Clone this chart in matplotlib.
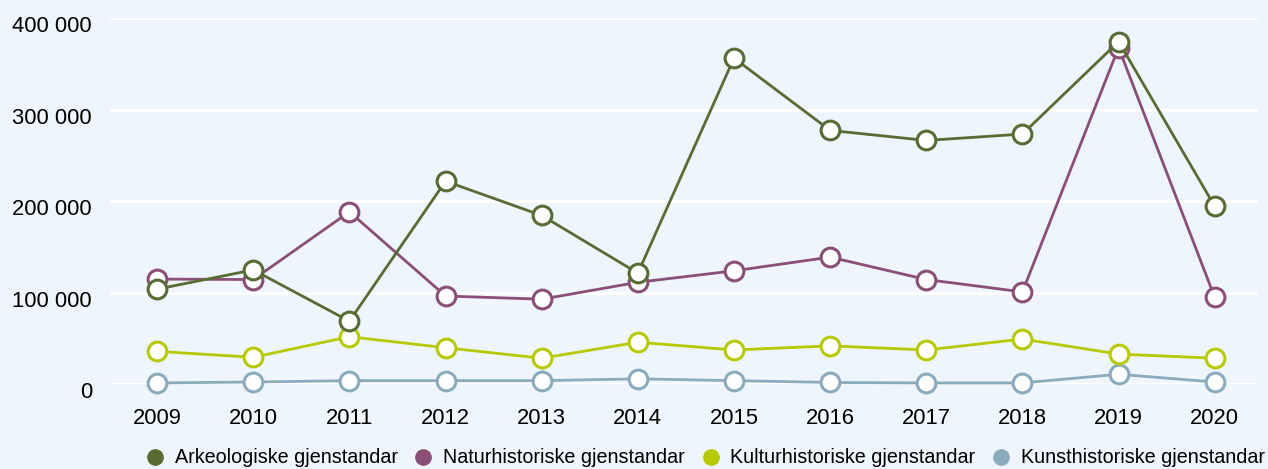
import numpy as np
import matplotlib
matplotlib.use("Agg")
import matplotlib.pyplot as plt
from matplotlib.lines import Line2D
from matplotlib.ticker import FuncFormatter
import matplotlib.transforms as mtransforms

# data, lest av bildet
years = [2009, 2010, 2011, 2012, 2013, 2014, 2015, 2016, 2017, 2018, 2019, 2020]
arkeologiske = [104000, 125000, 69000, 222000, 184500, 121500, 356500, 277500, 266500, 273500, 374500, 194500]
naturhistoriske = [115000, 114500, 188500, 96500, 93000, 111500, 124000, 139000, 114500, 101000, 368000, 95000]
kulturhistoriske = [36000, 29500, 52000, 40000, 28500, 46000, 37500, 42000, 37500, 49500, 33000, 28500]
kunsthistoriske = [1500, 2500, 4000, 4000, 4000, 6000, 4000, 2000, 1500, 1500, 11000, 2500]

labels = ["Arkeologiske gjenstandar", "Naturhistoriske gjenstandar",
          "Kulturhistoriske gjenstandar", "Kunsthistoriske gjenstandar"]
colors = ["#586b33", "#8a4e77", "#b7c900", "#8aabbd"]
yticks = [0, 100000, 200000, 300000, 400000]

bg = "#eef5fc"
plt.rcParams['font.family'] = ['Liberation Sans', 'DejaVu Sans']

fig = plt.figure(figsize=(12.68, 4.69), dpi=100, facecolor=bg)
ax = fig.add_axes([110 / 1268, (469 - 384.3) / 469, (1258 - 110) / 1268, (384.3 - 18.3) / 469])
ax.set_facecolor(bg)

series = [arkeologiske, naturhistoriske, kulturhistoriske, kunsthistoriske]
# tegn arkeologiske sist, den ligger over de andre
for i in [3, 2, 1, 0]:
    ax.plot(years, series[i], color=colors[i], lw=2.0, marker='o', markersize=13.5,
            markerfacecolor='white', markeredgecolor=colors[i], markeredgewidth=2.2,
            clip_on=False, zorder=3 + (3 - i))

ax.set_ylim(0, 400000)
ax.set_xlim(2008.51, 2020.45)
ax.set_yticks(yticks)
ax.yaxis.set_major_formatter(FuncFormatter(lambda v, p: "{:,.0f}".format(v).replace(",", " ")))
ax.set_xticks(years)
ax.grid(axis='y', color='white', lw=2.2, zorder=0)
ax.set_axisbelow(True)
for s in ax.spines.values():
    s.set_visible(False)
ax.tick_params(axis='both', length=0, labelsize=15.8, labelcolor='#000000')
ax.tick_params(axis='y', pad=13)
ax.tick_params(axis='x', pad=17)

# flytt y-etikettene litt ned
offset = mtransforms.ScaledTranslation(0, -6 / 100, fig.dpi_scale_trans)
for lab in ax.get_yticklabels():
    lab.set_transform(lab.get_transform() + offset)

handles = [Line2D([], [], ls='none', marker='o', markersize=11, color=c) for c in colors]
fig.legend(handles, labels, loc='center', bbox_to_anchor=(0.556, 0.0235), ncol=4,
           frameon=False, fontsize=14.2, handlelength=1.0, handletextpad=0.5,
           columnspacing=0.8, borderpad=0, borderaxespad=0, labelcolor='#000000')

fig.savefig("out.png", dpi=100, facecolor=bg)
